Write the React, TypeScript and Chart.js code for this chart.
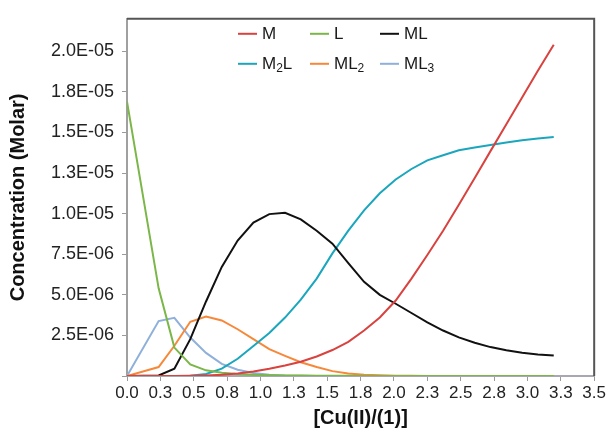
import React, { useEffect, useRef } from 'react';
import { Chart, registerables } from 'chart.js';

Chart.register(...registerables);

// [Cu(II)]/[L] ratio at each computed point
const xRatio = [0, 0.237, 0.355, 0.474, 0.592, 0.71, 0.829, 0.947, 1.066, 1.184, 1.302, 1.421, 1.539, 1.658, 1.776, 1.894, 2.013, 2.131, 2.25, 2.368, 2.486, 2.605, 2.723, 2.842, 2.96, 3.078, 3.197];

// Concentrations (Molar)
const seriesM = [0, 0, 0, 0.01e-6, 0.03e-6, 0.07e-6, 0.15e-6, 0.28e-6, 0.45e-6, 0.65e-6, 0.88e-6, 1.2e-6, 1.6e-6, 2.1e-6, 2.8e-6, 3.6e-6, 4.65e-6, 6.0e-6, 7.45e-6, 8.95e-6, 10.55e-6, 12.2e-6, 13.85e-6, 15.5e-6, 17.15e-6, 18.8e-6, 20.4e-6];
const seriesL = [16.9e-6, 5.4e-6, 1.75e-6, 0.71e-6, 0.35e-6, 0.2e-6, 0.12e-6, 0.08e-6, 0.05e-6, 0.035e-6, 0.025e-6, 0.018e-6, 0.012e-6, 0.008e-6, 0.006e-6, 0.004e-6, 0.003e-6, 0.002e-6, 0.002e-6, 0.001e-6, 0.001e-6, 0.001e-6, 0.001e-6, 0, 0, 0, 0];
const seriesML = [0, 0.03e-6, 0.45e-6, 2.27e-6, 4.59e-6, 6.72e-6, 8.34e-6, 9.45e-6, 9.97e-6, 10.05e-6, 9.65e-6, 8.95e-6, 8.15e-6, 6.95e-6, 5.8e-6, 5.0e-6, 4.45e-6, 3.88e-6, 3.3e-6, 2.8e-6, 2.38e-6, 2.05e-6, 1.78e-6, 1.58e-6, 1.43e-6, 1.33e-6, 1.26e-6];
const seriesM2L = [0, 0, 0, 0.02e-6, 0.12e-6, 0.45e-6, 1.06e-6, 1.85e-6, 2.65e-6, 3.6e-6, 4.7e-6, 6.0e-6, 7.55e-6, 8.95e-6, 10.2e-6, 11.25e-6, 12.1e-6, 12.75e-6, 13.28e-6, 13.6e-6, 13.9e-6, 14.07e-6, 14.23e-6, 14.38e-6, 14.52e-6, 14.63e-6, 14.72e-6];
const seriesML2 = [0, 0.55e-6, 1.86e-6, 3.34e-6, 3.66e-6, 3.42e-6, 2.88e-6, 2.27e-6, 1.65e-6, 1.24e-6, 0.85e-6, 0.55e-6, 0.3e-6, 0.15e-6, 0.08e-6, 0.04e-6, 0.02e-6, 0.01e-6, 0.005e-6, 0, 0, 0, 0, 0, 0, 0, 0];
const seriesML3 = [0, 3.38e-6, 3.58e-6, 2.37e-6, 1.42e-6, 0.75e-6, 0.39e-6, 0.18e-6, 0.08e-6, 0.03e-6, 0.01e-6, 0.005e-6, 0, 0, 0, 0, 0, 0, 0, 0, 0, 0, 0, 0, 0, 0, 0];

const seriesLabels = ['M', 'L', 'ML', 'M₂L', 'ML₂', 'ML₃'];
const seriesValues = [seriesM, seriesL, seriesML, seriesM2L, seriesML2, seriesML3];
const seriesColors = ['#d8423f', '#7ab648', '#111111', '#1aa6bd', '#f7883a', '#8fb0db'];

const xTickLabels = ['0.0', '0.3', '0.5', '0.8', '1.0', '1.3', '1.5', '1.8', '2.0', '2.3', '2.5', '2.8', '3.0', '3.3', '3.5'];
const yTickLabels = ['', '2.5E-06', '5.0E-06', '7.5E-06', '1.0E-05', '1.3E-05', '1.5E-05', '1.8E-05', '2.0E-05'];

const FONT = '"Liberation Sans", Arial, Helvetica, sans-serif';
const SUBS = '₀₁₂₃₄₅₆₇₈₉';

const frameLines = {
  id: 'frameLines',
  afterDatasetsDraw(chart: any) {
    const { ctx, chartArea } = chart;
    ctx.save();
    ctx.strokeStyle = '#555555';
    ctx.lineWidth = 2;
    ctx.beginPath();
    ctx.moveTo(chartArea.left, chartArea.top);
    ctx.lineTo(chartArea.right, chartArea.top);
    ctx.lineTo(chartArea.right, chartArea.bottom);
    ctx.stroke();
    ctx.restore();
  },
};

const gridLegend = {
  id: 'gridLegend',
  afterDraw(chart: any) {
    const { ctx, chartArea } = chart;
    const cols = [111, 183, 253];
    const rows = [15, 45];
    chart.data.datasets.forEach((ds: any, i: number) => {
      const x = chartArea.left + cols[i % 3];
      const y = chartArea.top + rows[Math.floor(i / 3)];
      ctx.save();
      ctx.strokeStyle = ds.borderColor;
      ctx.lineWidth = 2;
      ctx.beginPath();
      ctx.moveTo(x, y);
      ctx.lineTo(x + 19, y);
      ctx.stroke();
      ctx.fillStyle = '#1a1a1a';
      ctx.textBaseline = 'middle';
      ctx.textAlign = 'left';
      let tx = x + 24;
      for (const ch of ds.label as string) {
        const sub = SUBS.indexOf(ch);
        if (sub >= 0) {
          ctx.font = `12px ${FONT}`;
          const s = String(sub);
          ctx.fillText(s, tx, y + 5);
          tx += ctx.measureText(s).width;
        } else {
          ctx.font = `17px ${FONT}`;
          ctx.fillText(ch, tx, y + 1);
          tx += ctx.measureText(ch).width;
        }
      }
      ctx.restore();
    });
  },
};

export default function App() {
  const canvasRef = useRef<HTMLCanvasElement | null>(null);

  useEffect(() => {
    if (!canvasRef.current) return;
    Chart.defaults.font.family = FONT;
    const chart = new Chart(canvasRef.current, {
      type: 'line',
      data: {
        datasets: seriesLabels.map((label, s) => ({
          label,
          data: xRatio.map((x, i) => ({ x, y: seriesValues[s][i] })),
          borderColor: seriesColors[s],
          backgroundColor: seriesColors[s],
          borderWidth: 2,
          pointRadius: 0,
          tension: 0,
          fill: false,
        })),
      },
      options: {
        animation: false,
        responsive: true,
        maintainAspectRatio: false,
        layout: { padding: { top: 14, right: 13, left: 0, bottom: 0 } },
        plugins: { legend: { display: false }, tooltip: { enabled: false } },
        scales: {
          x: {
            type: 'linear',
            min: 0,
            max: 3.5,
            afterFit: (scale: any) => { scale.height = 60; },
            ticks: {
              stepSize: 0.25,
              autoSkip: false,
              maxRotation: 0,
              padding: 2,
              color: '#222',
              font: { size: 17 },
              callback: (_v: any, i: number) => xTickLabels[i] ?? '',
            },
            grid: { drawOnChartArea: false, drawTicks: true, tickLength: 5, color: '#9a9a9a' },
            border: { display: true, color: '#a8a8b0', width: 2 },
            title: { display: true, text: '[Cu(II)/(1)]', color: '#111', font: { size: 20, weight: 'bold' }, padding: { top: 2, bottom: 6 } },
          },
          y: {
            type: 'linear',
            min: 0,
            max: 2.2e-5,
            afterFit: (scale: any) => { scale.width = 127; },
            afterBuildTicks: (scale: any) => { scale.ticks = scale.ticks.filter((t: any) => t.value <= 2.01e-5); },
            ticks: {
              stepSize: 2.5e-6,
              padding: 8,
              color: '#222',
              font: { size: 18 },
              callback: (_v: any, i: number) => yTickLabels[i] ?? '',
            },
            grid: { drawOnChartArea: false, drawTicks: true, tickLength: 5, color: '#9a9a9a' },
            border: { display: true, color: '#a0a0a0', width: 2 },
            title: { display: true, text: 'Concentration (Molar)', color: '#111', font: { size: 20, weight: 'bold' }, padding: { top: 6, bottom: 0 } },
          },
        },
      },
      plugins: [frameLines, gridLegend],
    } as any);
    return () => chart.destroy();
  }, []);

  return (
    <div style={{ position: 'fixed', left: 0, top: 0, width: 608, height: 436, background: '#fff' }}>
      <canvas ref={canvasRef} />
    </div>
  );
}
